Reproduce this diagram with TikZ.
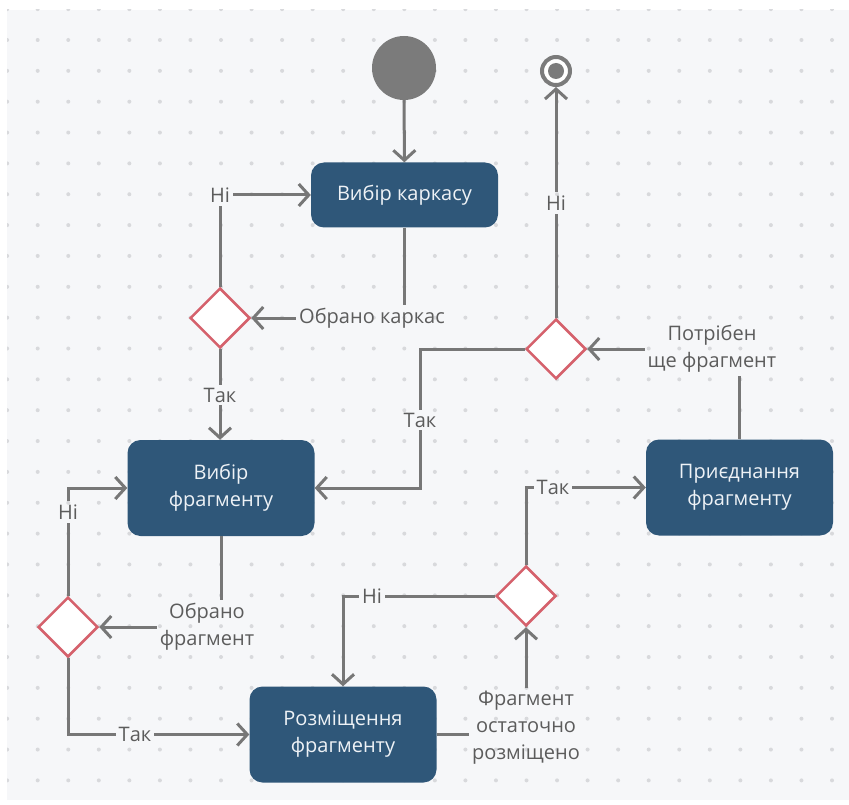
\documentclass[tikz,border=0pt]{standalone}
\usepackage{fontspec}
\setmainfont{Open Sans}
\usetikzlibrary{shapes.geometric,arrows.meta}

\definecolor{canvas}{HTML}{F6F7F9}
\definecolor{gridc}{HTML}{D8D9DC}
\definecolor{linec}{HTML}{777777}
\definecolor{lblc}{HTML}{5C5C5C}
\definecolor{boxc}{HTML}{2F5779}
\definecolor{boxtext}{HTML}{EEF2F6}
\definecolor{decc}{HTML}{D5616C}
\definecolor{termc}{HTML}{7B7B7B}

\newcommand\dfont{\fontsize{20}{27}\selectfont}

\begin{document}
\begin{tikzpicture}[x=1pt,y=-1pt,
  actbox/.style={rectangle, rounded corners=13pt, fill=boxc, text=boxtext,
    minimum width=187pt, align=center, font=\dfont, inner sep=4pt},
  decision/.style={diamond, draw=decc, fill=white, line width=2.5pt,
    minimum width=60pt, minimum height=60pt, inner sep=0pt},
  lbl/.style={text=lblc, inner sep=3pt, align=center, font=\dfont},
  conn/.style={draw=linec, line width=3pt},
  arr/.style={conn, -{Straight Barb[length=10pt,width=22pt]}}]

\useasboundingbox (0,0) rectangle (849,805);
\fill[white] (0,0) rectangle (849,805);
\fill[canvas] (7,10) rectangle (849,800);
% dotted grid
\begin{scope}
  \clip (7,10) rectangle (849,800);
  \foreach \i in {0,...,27}
    \foreach \j in {0,...,25}
      \fill[gridc] (7.15+30.55*\i, 9.15+30.85*\j) circle (2pt);
\end{scope}

% start / end
\node (start) [circle, fill=termc, minimum size=64pt, inner sep=0pt] at (404,68) {};
\node (stop) [circle, draw=termc, line width=4pt, fill=white, minimum size=28pt, inner sep=0pt] at (556,71) {};
\fill[termc] (stop.center) circle (8pt);

% activities
\node (frame) [actbox, minimum height=65pt] at (404.5,195) {Вибір каркасу};
\node (pick)  [actbox, minimum height=96pt] at (221,488) {Вибір\\фрагменту};
\node (join)  [actbox, minimum height=96pt] at (739.5,487.5) {Приєднання\\фрагменту};
\node (place) [actbox, minimum height=96pt] at (343,734.5) {Розміщення\\фрагменту};

% decisions
\node (d1) [decision] at (220,318) {};
\node (d2) [decision] at (556,349) {};
\node (d3) [decision] at (68,627) {};
\node (d4) [decision] at (526,596) {};

% guard labels
\node (l1)  [lbl] at (372,318) {Обрано каркас};
\node (l2)  [lbl] at (220,195) {Ні};
\node (l3)  [lbl] at (220,395) {Так};
\node (l4)  [lbl] at (207,627) {Обрано\\фрагмент};
\node (l5)  [lbl] at (68,512) {Ні};
\node (l6)  [lbl] at (135,734.5) {Так};
\node (l7)  [lbl] at (526,728) {Фрагмент\\остаточно\\розміщено};
\node (l8)  [lbl] at (372,596) {Ні};
\node (l9)  [lbl] at (553,487.5) {Так};
\node (l10) [lbl] at (712,349) {Потрібен\\ще фрагмент};
\node (l11) [lbl] at (420,420) {Так};
\node (l12) [lbl] at (556,203) {Ні};

% flows
\draw[arr] (start) -- (frame);
\draw[conn] (frame.south) -- (frame.south |- l1.north);
\draw[arr] (l1.west) -- (d1.east);
\draw[conn] (d1.north) -- (l2.south);
\draw[arr] (l2.east) -- (frame.west);
\draw[conn] (d1.south) -- (l3.north);
\draw[arr] (l3.south) -- (l3.south |- pick.north);

\draw[conn] (pick.south) -- (pick.south |- l4.north);
\draw[arr] (l4.west) -- (d3.east);
\draw[conn] (d3.north) -- (l5.south);
\draw[arr] (l5.north) |- (pick.west);
\draw[conn] (d3.south) |- (l6.west);
\draw[arr] (l6.east) -- (place.west);

\draw[conn] (place.east) -- (place.east -| l7.west);
\draw[arr] (l7.north) -- (d4.south);
\draw[conn] (d4.west) -- (l8.east);
\draw[arr] (l8.west) -| (place.north);
\draw[conn] (d4.north) |- (l9.west);
\draw[arr] (l9.east) -- (join.west);

\draw[conn] (join.north) -- (join.north |- l10.south);
\draw[arr] (l10.west) -- (d2.east);
\draw[conn] (d2.west) -| (l11.north);
\draw[arr] (l11.south) |- (pick.east);
\draw[conn] (d2.north) -- (l12.south);
\draw[arr] (l12.north) -- (stop.south);
\end{tikzpicture}
\end{document}
